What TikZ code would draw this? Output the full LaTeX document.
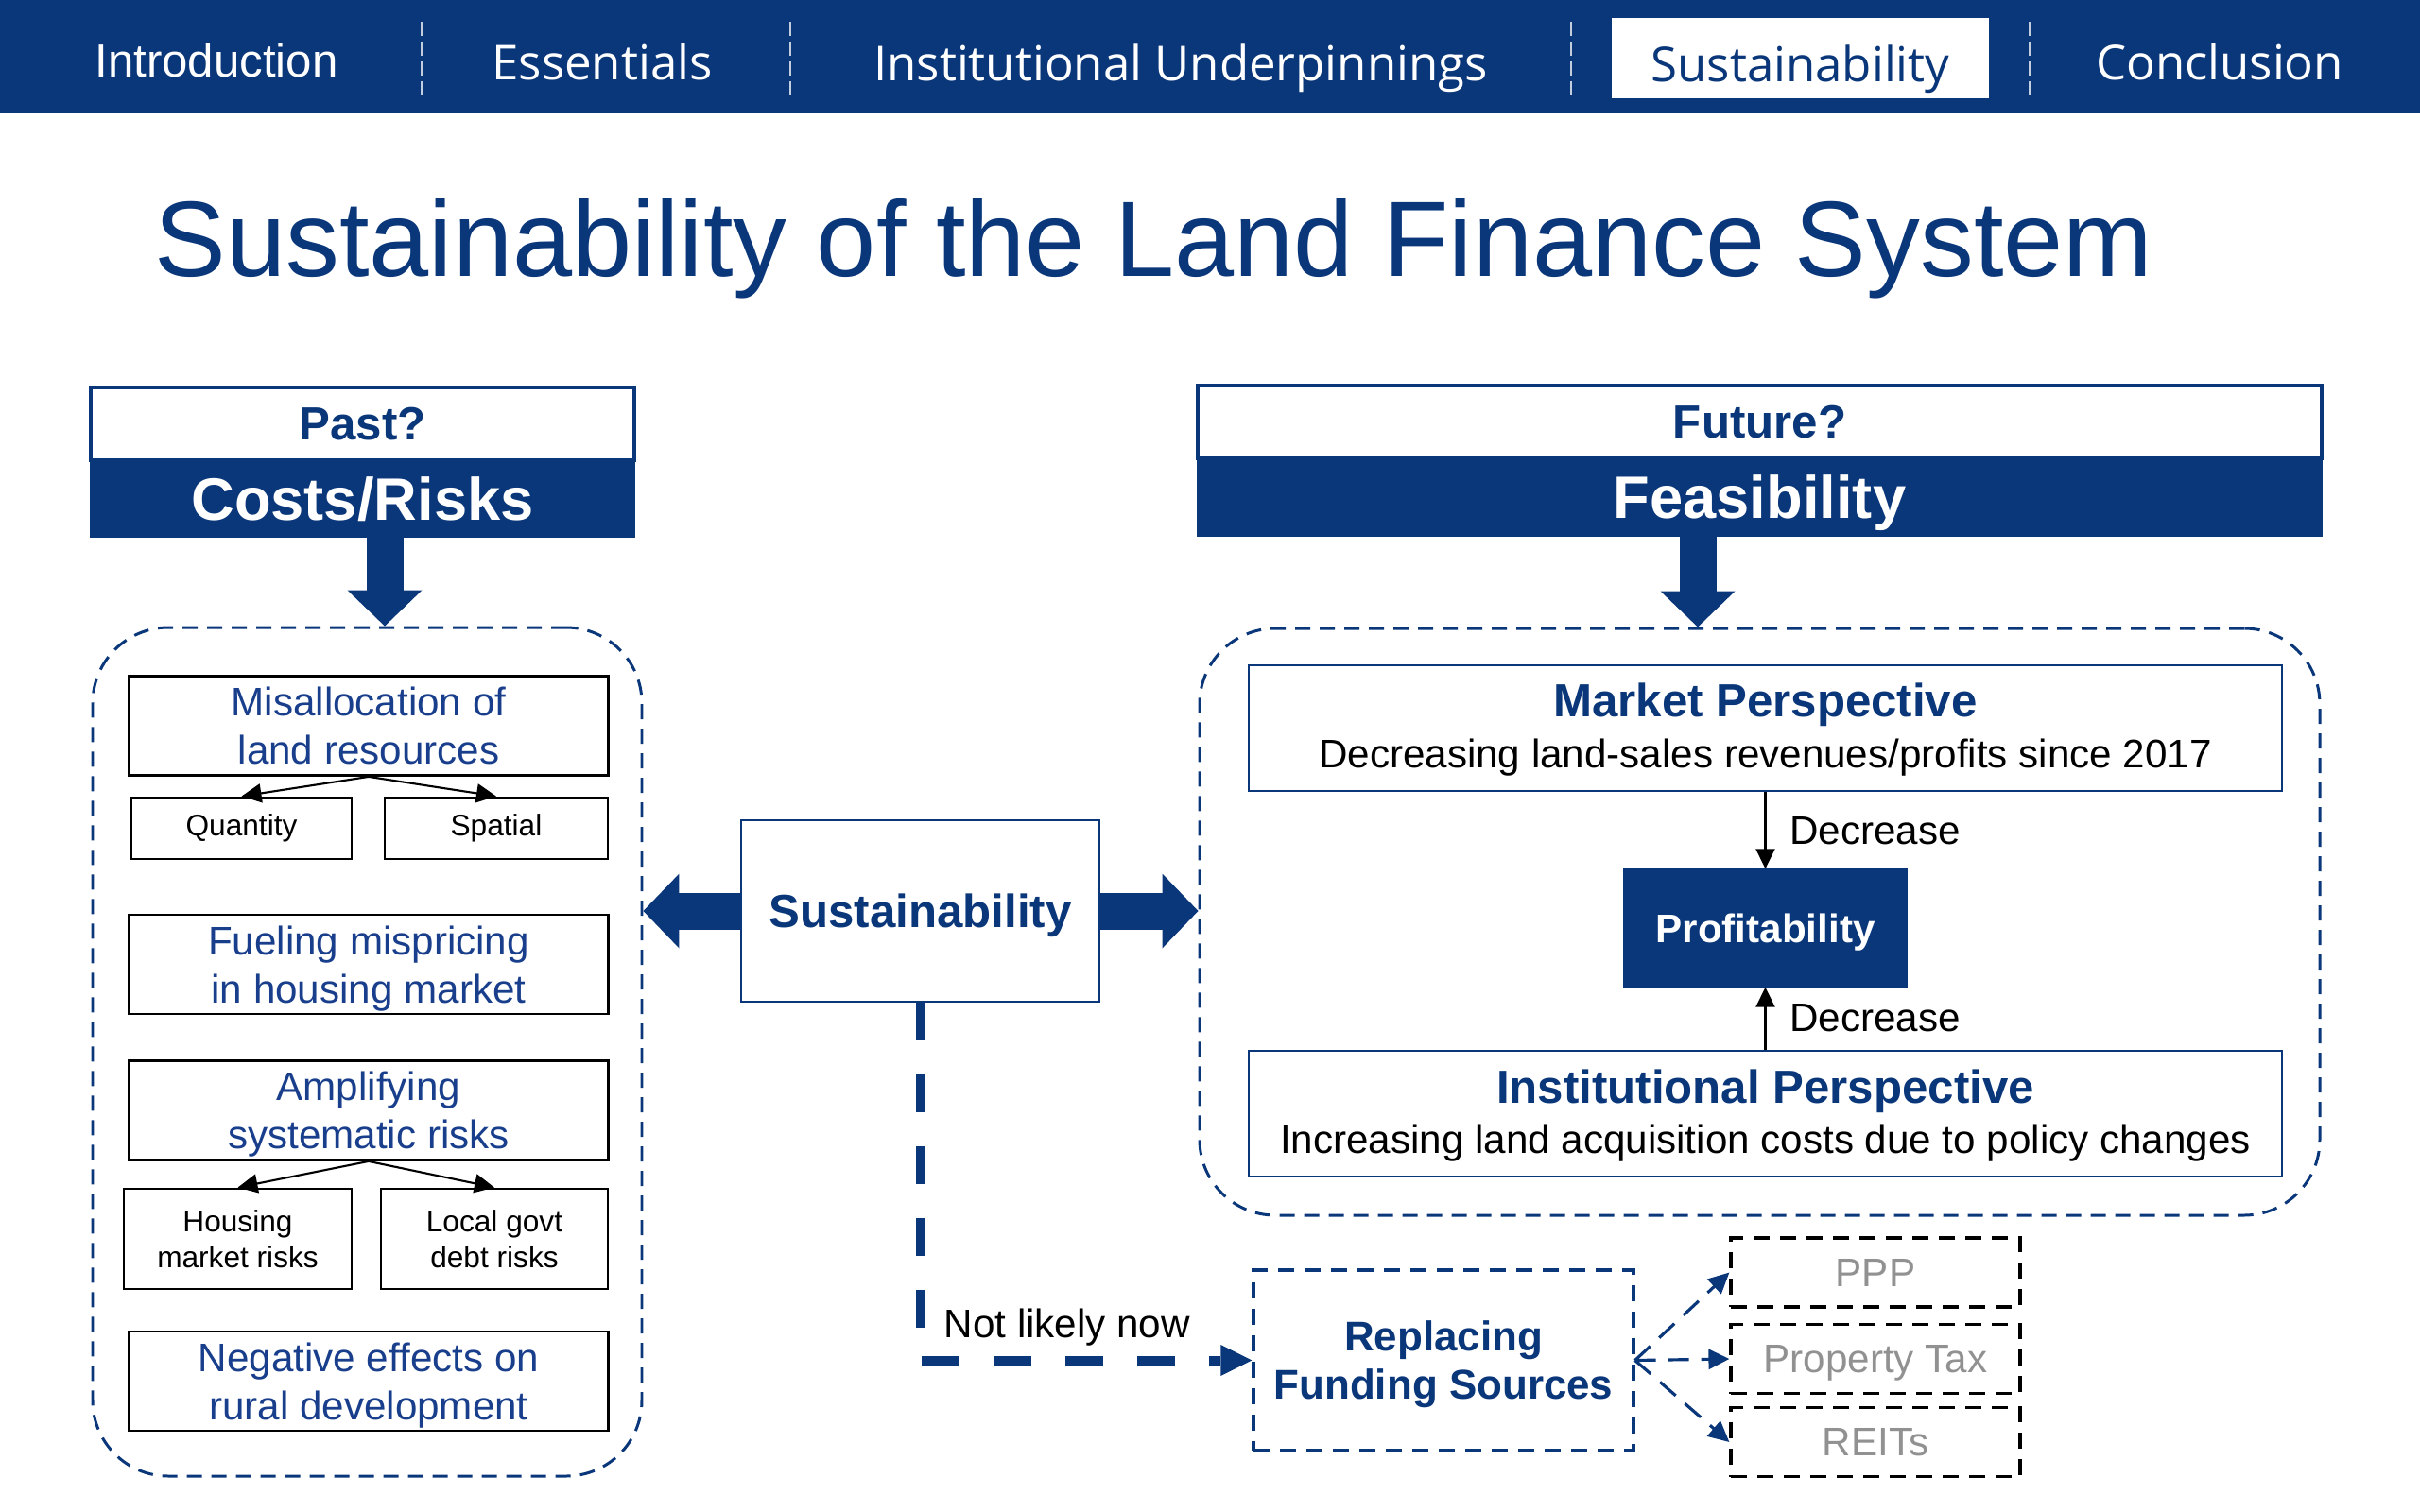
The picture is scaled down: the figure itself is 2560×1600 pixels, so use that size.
\documentclass[tikz,border=0pt]{standalone}
\usepackage{fontspec}
\setmainfont{Liberation Sans}
\newfontfamily\navfont{Open Sans}
\usetikzlibrary{positioning,arrows.meta,calc}
\definecolor{navy}{RGB}{10,54,122}
\definecolor{boxblue}{RGB}{24,62,140}
\definecolor{optgray}{RGB}{145,145,145}

\begin{document}
\begin{tikzpicture}[
  x=0.1mm, y=-0.1mm,
  txt/.style={font=\fontsize{12}{14.5}\selectfont},
  navitem/.style={font=\navfont\fontsize{14.5}{17}\selectfont, text=white, inner sep=0pt, anchor=base},
  navsep/.style={draw=white!75!navy, line width=0.5pt, dash pattern=on 1.5mm off 0.6mm},
  hdrq/.style={draw=navy, line width=0.9pt, fill=white, text=navy, font=\fontsize{14}{16}\selectfont\bfseries, minimum height=7.7mm, inner sep=0pt},
  hdrbar/.style={draw=navy, fill=navy, text=white, font=\fontsize{18}{20}\selectfont\bfseries, minimum height=8.1mm, inner sep=0pt, text depth=0pt},
  dashgroup/.style={draw=navy, line width=0.85pt, dash pattern=on 1.6mm off 1mm, rounded corners=8mm, inner sep=0pt},
  cbox/.style={draw=black, line width=0.8pt, text=boxblue, align=center, font=\fontsize{12}{14.5}\selectfont, minimum width=50.7mm, minimum height=10.5mm, inner sep=0pt, text depth=0pt},
  sbox/.style={draw=black, line width=0.8pt, align=center, font=\fontsize{9}{10.8}\selectfont, inner sep=0pt},
  pbox/.style={draw=navy, line width=0.8pt, minimum width=109.3mm, minimum height=13.3mm, inner sep=0pt},
  ptitle/.style={font=\fontsize{14}{16}\selectfont\bfseries, text=navy, inner sep=0pt},
  psub/.style={font=\fontsize{12}{14}\selectfont, inner sep=0pt},
  obox/.style={draw=black, line width=0.9pt, dash pattern=on 1.7mm off 1.1mm, text=optgray, font=\fontsize{12}{14}\selectfont, minimum width=30.6mm, minimum height=7.3mm, inner sep=0pt, text depth=0pt},
  arrow/.style={-{Triangle[length=2.1mm, width=2mm]}, line width=0.6pt},
  blockarrow/.style={draw=navy, line width=3.9mm, -{Triangle[length=3.8mm, width=7.9mm, line width=0pt]}},
  nolike/.style={draw=navy, line width=1mm, dash pattern=on 4mm off 3.6mm, -{Triangle[length=3.3mm, width=3.3mm, line width=0pt]}},
  optarrow/.style={draw=navy, line width=0.9pt, dash pattern=on 2.2mm off 1.3mm, -{Triangle[length=2.2mm, width=2.1mm]}},
]
\useasboundingbox (0,0) rectangle (2560,1600);

% === NAVIGATION BAR ===
\fill[navy] (0,0) rectangle (2560,120);
\node[navitem, font=\fontsize{14}{17}\selectfont] (navIntro) at (229,81) {Introduction};
\node[navitem] (navEss)   at (637,84) {Essentials};
\node[navitem] (navInst)  at (1249,85) {Institutional Underpinnings};
\node[draw=white, fill=white, minimum width=39.7mm, minimum height=8.3mm, inner sep=0pt] (navBox) at (1904.5,61.5) {};
\node[navitem, text=navy] (navSus) at (1904.5,86) {Sustainability};
\node[navitem] (navConc)  at (2348,84) {Conclusion};
\draw[navsep] (446,23) -- (446,105);
\draw[navsep] (836,23) -- (836,105);
\draw[navsep] (1662,23) -- (1662,105);
\draw[navsep] (2147,23) -- (2147,105);

\node[anchor=base west, inner sep=0pt, text=navy, font=\fontsize{32.3}{36}\selectfont] (title) at (163,292) {Sustainability of the Land Finance System};

% === PAST: COSTS / RISKS ===
\node[hdrq, minimum width=57.5mm]   (pastq) at (383.5,448.5) {Past?};
\node[hdrbar, minimum width=57.5mm] (costs) at (383.5,527.5) {Costs/Risks};
\node[dashgroup, minimum width=58.1mm, minimum height=89.8mm] (lgroup) at (388.5,1113) {};

\node[cbox] (misalloc) at (390,768) {Misallocation of\\land resources};
\node[sbox, minimum width=23.3mm, minimum height=6.5mm] (quant)   at (255.5,876.5) {Quantity};
\node[sbox, minimum width=23.6mm, minimum height=6.5mm] (spatial) at (525,876.5) {Spatial};
\node[cbox] (misprice) at (390,1020.5) {Fueling mispricing\\in housing market};
\node[cbox] (amplify)  at (390,1175) {Amplifying\\systematic risks};
\node[sbox, minimum width=24.1mm, minimum height=10.6mm] (housing) at (251.5,1311) {Housing\\market risks};
\node[sbox, minimum width=24mm, minimum height=10.6mm]   (lgdebt)  at (523,1311) {Local govt\\debt risks};
\node[cbox] (rural)    at (390,1461.5) {Negative effects on\\rural development};

% === FUTURE: FEASIBILITY ===
\node[hdrq, minimum width=118.9mm] (futq) at (1861.5,446.5) {Future?};
\node[hdrbar, minimum width=118.9mm, minimum height=8.2mm] (feas) at (1861.5,526) {Feasibility};
\node[dashgroup, minimum width=118.5mm, minimum height=62.1mm] (rgroup) at (1861.5,975.5) {};

\node[pbox] (market) at (1867.5,770.5) {};
\node[ptitle] (marketT) at (1867.5,746) {Market Perspective};
\node[psub]   (marketS) at (1867.5,802) {Decreasing land-sales revenues/profits since 2017};
\node[draw=navy, fill=navy, text=white, font=\fontsize{12}{14}\selectfont\bfseries, minimum width=30mm, minimum height=12.4mm, inner sep=0pt, text depth=0pt] (profit) at (1867.5,982) {Profitability};
\node[pbox] (instit) at (1867.5,1178.5) {};
\node[ptitle] (institT) at (1867.5,1154.5) {Institutional Perspective};
\node[psub]   (institS) at (1867.5,1210) {Increasing land acquisition costs due to policy changes};

% === CENTRE ===
\node[draw=navy, line width=0.8pt, minimum width=37.9mm, minimum height=19.2mm, text=navy, font=\fontsize{14}{16}\selectfont\bfseries, inner sep=0pt, text depth=0pt] (sustain) at (973.5,964) {Sustainability};

\node[draw=navy, line width=0.9pt, dash pattern=on 1.7mm off 1.1mm, minimum width=40.2mm, minimum height=19.1mm, text=navy, align=center, font=\fontsize{12.5}{14.5}\selectfont\bfseries, inner sep=0pt, text depth=0pt] (replace) at (1527,1439.5) {Replacing\\Funding Sources};
\node[obox] (ppp)   at (1984,1346.5) {PPP};
\node[obox] (ptax)  at (1984,1438) {Property Tax};
\node[obox] (reits) at (1984,1526) {REITs};
\node[txt, anchor=base west, inner sep=0pt] (notnow) at (998,1415) {Not likely now};

% connectors
\draw[blockarrow] ([xshift=2.35mm]costs.south) -- ([xshift=2.35mm]costs.south |- lgroup.north);
\draw[blockarrow] ([xshift=-6.55mm]feas.south) -- ([xshift=-6.55mm]feas.south |- rgroup.north);
\draw[blockarrow] (sustain.west) -- (sustain.west -| lgroup.east);
\draw[blockarrow] (sustain.east) -- (sustain.east -| rgroup.west);

\draw[arrow] (misalloc.south) -- (quant.north);
\draw[arrow] (misalloc.south) -- (spatial.north);
\draw[arrow] (amplify.south)  -- (housing.north);
\draw[arrow] (amplify.south)  -- (lgdebt.north);

\draw[arrow] (market.south) -- node[txt, right, xshift=1.3mm] (decA) {Decrease} (profit.north);
\draw[arrow] (instit.north) -- node[txt, right, xshift=1.3mm] (decB) {Decrease} (profit.south);

\draw[nolike] (sustain.south) |- (replace.west);
\draw[optarrow] (replace.east) -- (ppp.west);
\draw[optarrow] (replace.east) -- (ptax.west);
\draw[optarrow] (replace.east) -- (reits.west);
\end{tikzpicture}
\end{document}
